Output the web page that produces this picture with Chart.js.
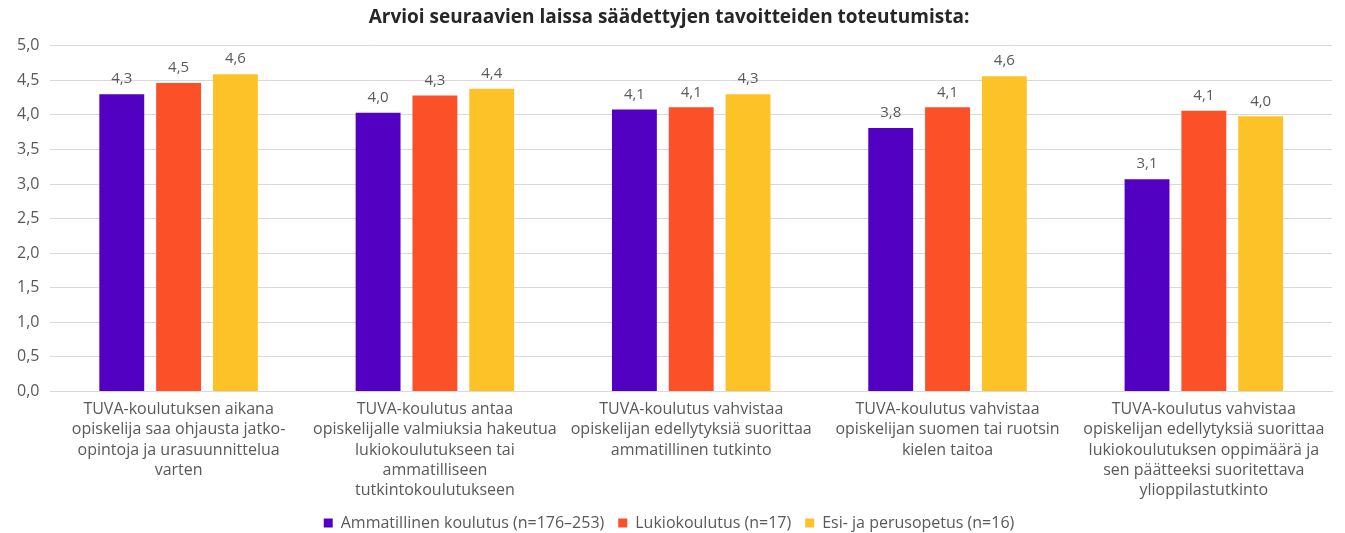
<!DOCTYPE html>
<html>
<head>
<meta charset="utf-8">
<script src="https://cdn.jsdelivr.net/npm/chart.js@4/dist/chart.umd.min.js"></script>
<style>
html,body{margin:0;padding:0;background:#fff;}
#wrap{width:1345px;height:533px;position:relative;}
</style>
</head>
<body>
<div id="wrap"><canvas id="c" width="1345" height="533"></canvas></div>
<script>
const chartTitle = "Arvioi seuraavien laissa säädettyjen tavoitteiden toteutumista:";
const categories = [
  ["TUVA-koulutuksen aikana","opiskelija saa ohjausta jatko-","opintoja ja urasuunnittelua","varten"],
  ["TUVA-koulutus antaa","opiskelijalle valmiuksia hakeutua","lukiokoulutukseen tai","ammatilliseen","tutkintokoulutukseen"],
  ["TUVA-koulutus vahvistaa","opiskelijan edellytyksiä suorittaa","ammatillinen tutkinto"],
  ["TUVA-koulutus vahvistaa","opiskelijan suomen tai ruotsin","kielen taitoa"],
  ["TUVA-koulutus vahvistaa","opiskelijan edellytyksiä suorittaa","lukiokoulutuksen oppimäärä ja","sen päätteeksi suoritettava","ylioppilastutkinto"]
];
const seriesNames = ["Ammatillinen koulutus (n=176–253)","Lukiokoulutus (n=17)","Esi- ja perusopetus (n=16)"];
const ammatillinen = [4.30, 4.03, 4.08, 3.81, 3.07];
const lukio = [4.46, 4.28, 4.11, 4.11, 4.06];
const esiPerus = [4.59, 4.38, 4.30, 4.56, 3.98];
const seriesColors = ["#5200c2","#fc5028","#fdc228"];
const yTicks = [0,0.5,1,1.5,2,2.5,3,3.5,4,4.5,5];

const FONT = "'Open Sans', sans-serif";
const TEXT = "#595959";
const fmt = v => v.toFixed(1).replace('.', ',');

const valueLabels = {
  id: 'valueLabels',
  afterDatasetsDraw(chart) {
    const ctx = chart.ctx;
    ctx.save();
    ctx.font = "15px " + FONT;
    ctx.fillStyle = TEXT;
    ctx.textAlign = 'center';
    ctx.textBaseline = 'middle';
    chart.data.datasets.forEach((ds, i) => {
      const meta = chart.getDatasetMeta(i);
      meta.data.forEach((bar, j) => {
        ctx.fillText(fmt(ds.data[j]), bar.x, bar.y - 15);
      });
    });
    ctx.restore();
  }
};

new Chart(document.getElementById('c'), {
  type: 'bar',
  data: {
    labels: categories,
    datasets: [
      {label: seriesNames[0], data: ammatillinen, backgroundColor: seriesColors[0]},
      {label: seriesNames[1], data: lukio, backgroundColor: seriesColors[1]},
      {label: seriesNames[2], data: esiPerus, backgroundColor: seriesColors[2]}
    ]
  },
  options: {
    responsive: false,
    animation: false,
    devicePixelRatio: 1,
    categoryPercentage: 0.665,
    barPercentage: 0.79,
    layout: {padding: {left: 6, right: 13, top: 0, bottom: -8}},
    plugins: {
      title: {
        display: true, text: chartTitle, color: '#262626',
        font: {family: FONT, size: 19, weight: 'bold'},
        padding: {top: 6, bottom: 17}
      },
      legend: {
        position: 'bottom',
        labels: {
          color: TEXT, font: {family: FONT, size: 16},
          boxWidth: 9, boxHeight: 9, padding: 14
        }
      },
      tooltip: {enabled: false}
    },
    scales: {
      x: {
        grid: {display: false},
        border: {color: '#d9d9d9'},
        ticks: {color: TEXT, font: {family: FONT, size: 16, lineHeight: 1.27}, maxRotation: 0, autoSkip: false, padding: 0}
      },
      y: {
        min: 0, max: 5,
        afterBuildTicks: (axis) => { axis.ticks = yTicks.map(v => ({value: v})); },
        grid: {color: '#d9d9d9', drawTicks: false},
        border: {display: false},
        ticks: {color: TEXT, font: {family: FONT, size: 16}, padding: 11, callback: v => fmt(v)}
      }
    }
  },
  plugins: [valueLabels]
});
</script>
</body>
</html>
